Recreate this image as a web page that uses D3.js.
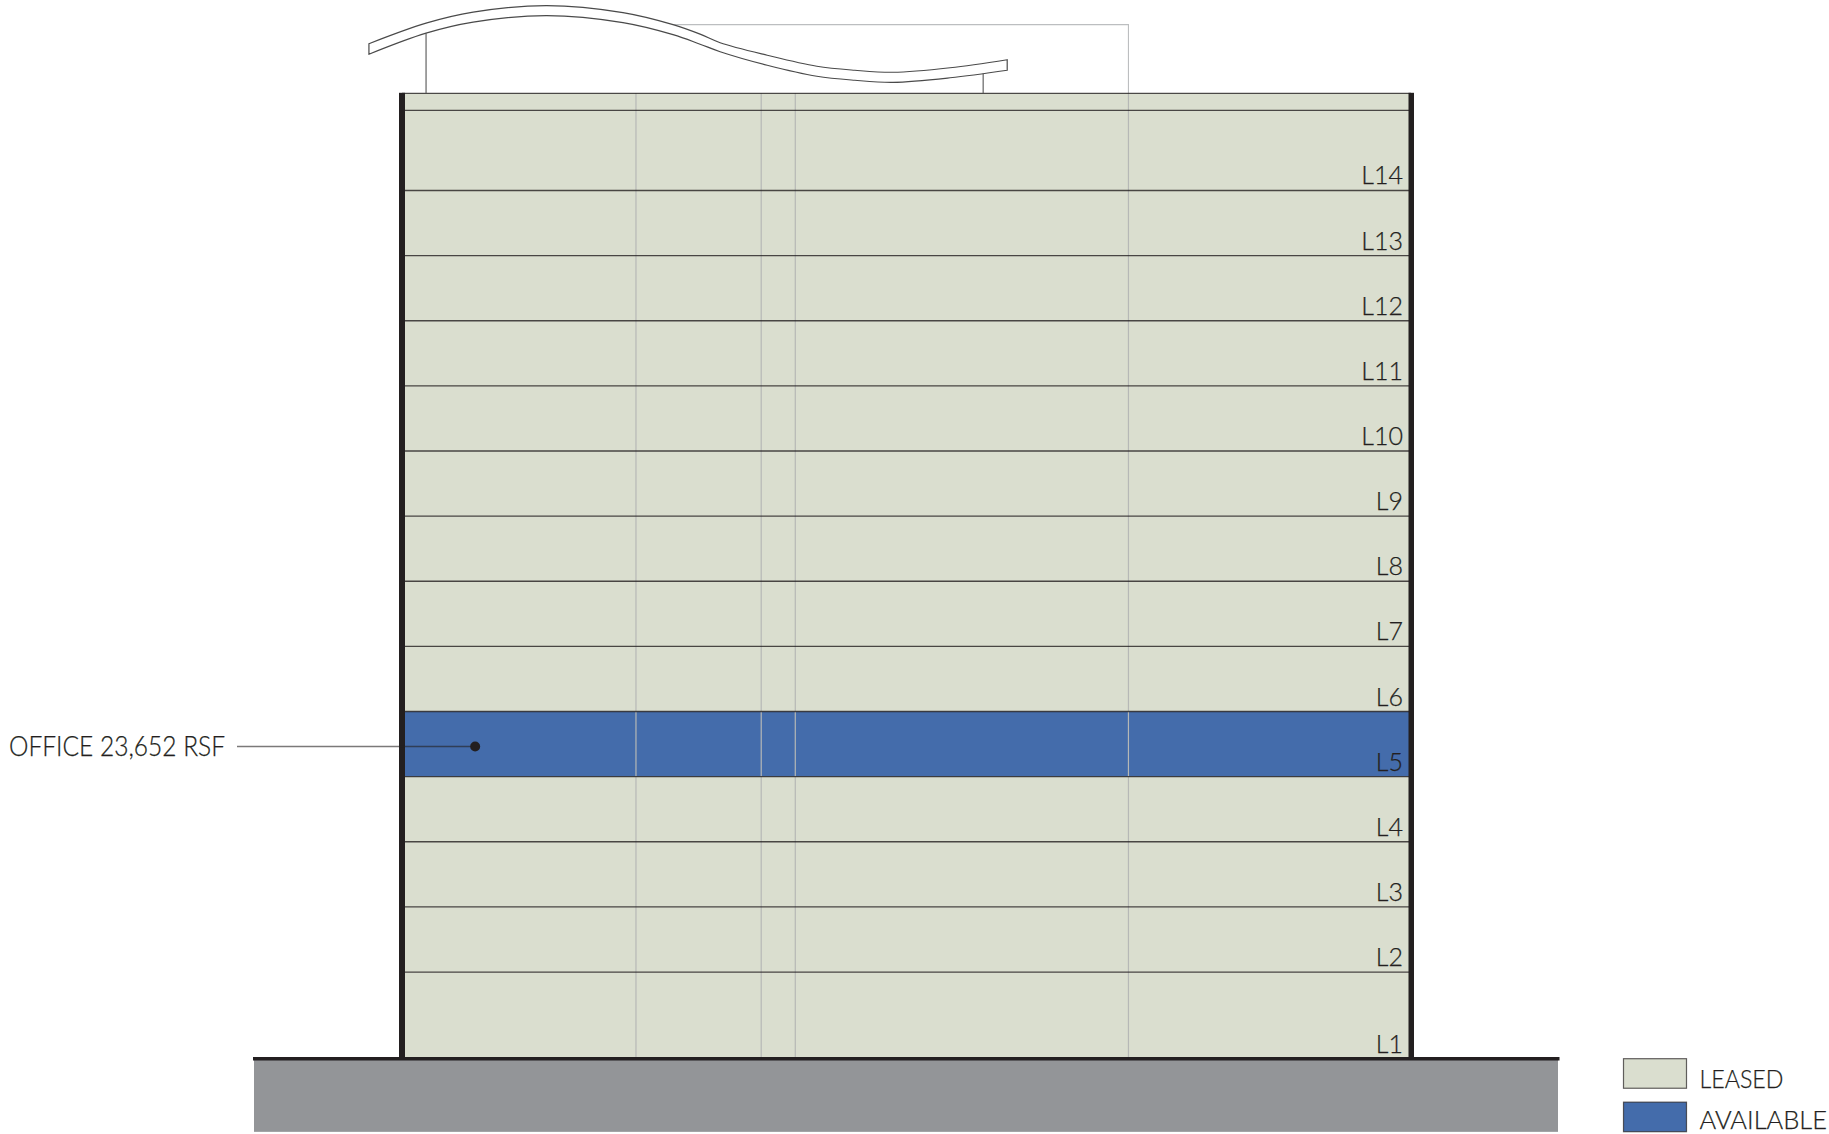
<!DOCTYPE html>
<html>
<head>
<meta charset="utf-8">
<script src="https://cdn.jsdelivr.net/npm/d3@7"></script>
<style>
html,body{margin:0;padding:0;background:#fff;overflow:hidden}
svg{display:block}
text{font-family:Lato,"Open Sans",sans-serif;font-weight:300;fill:#231f20;stroke:#231f20;stroke-width:.25px}
</style>
</head>
<body>
<div id="chart"></div>
<script>
// Floors from top to bottom (height in feet, status)
const floorLabels  = ["L14","L13","L12","L11","L10","L9","L8","L7","L6","L5","L4","L3","L2","L1"];
const floorHeights = [16,13,13,13,13,13,13,13,13,13,13,13,13,17.3];
const floorStatus  = ["leased","leased","leased","leased","leased","leased","leased","leased","leased","available","leased","leased","leased","leased"];
const parapetHeight = 3.4;
const buildingWidth = 201.4;
const groundDepth = 14.6;
const columnPositions = [46.7,71.7,78.5,145];
const roofX      = [-6.6,4.8,14.2,28.9,44.1,54.1,59.5,63.5,72.9,82.8,90.4,98,109.4,120.8];
const roofUpper  = [202.6,206.7,208.9,210.2,208.8,206.4,204.5,202.8,200.3,198.1,197.3,196.9,197.8,199.4];
const roofLower  = [200.5,204.7,206.9,208.2,206.8,204.4,202.5,201.0,198.3,196.1,195.3,194.9,195.8,197.3];
const roofStalks = [4.8,116];
const frameTopElevation = 206.4;
const frameStartX = 54.1;
const legendLabels = ["LEASED","AVAILABLE"];
const legendKeys = ["leased","available"];
const legendWidths = [84, 127.5];
const calloutText = "OFFICE 23,652 RSF";
const calloutElevation = 62.3;
const calloutPointX = 14.6;

const colors = {leased:"#dadecf", available:"#446cab"};
const ink = "#231f20";

const W = 1829, H = 1134;
const totalH = d3.sum(floorHeights) + parapetHeight;
const x = d3.scaleLinear().domain([0, buildingWidth]).range([402, 1411]);
const y = d3.scaleLinear().domain([0, totalH]).range([1058.7, 93.3]);

const svg = d3.select("#chart").append("svg").attr("width", W).attr("height", H).attr("viewBox", `0 0 ${W} ${H}`);

// floor bands from the top down
let cursor = totalH - parapetHeight;
const floors = floorLabels.map((label, i) => {
  const t = cursor, b = cursor - floorHeights[i];
  cursor = b;
  return {label, top: t, bottom: b, status: floorStatus[i]};
});

// ground
svg.append("rect").attr("x", 254).attr("y", y(0)).attr("width", 1304).attr("height", y(-groundDepth) - y(0)).attr("fill", "#939598");

// parapet + floor fills
svg.append("rect").attr("x", x(0)).attr("y", y(totalH)).attr("width", x(buildingWidth) - x(0)).attr("height", y(0) - y(totalH)).attr("fill", colors.leased);
svg.selectAll("rect.floor").data(floors).join("rect").attr("class", "floor")
  .attr("x", x(0)).attr("width", x(buildingWidth) - x(0))
  .attr("y", d => y(d.top)).attr("height", d => y(d.bottom) - y(d.top))
  .attr("fill", d => colors[d.status]);

// columns
svg.selectAll("line.col").data(columnPositions).join("line").attr("class", "col")
  .attr("x1", d => x(d)).attr("x2", d => x(d))
  .attr("y1", y(totalH)).attr("y2", y(0))
  .attr("stroke", "#b6b8b6").attr("stroke-width", 1.2);

// frame behind roof
const lineXY = d3.line().x(d => x(d[0])).y(d => y(d[1]));
svg.append("path").attr("d", lineXY([[frameStartX, frameTopElevation],[columnPositions[3], frameTopElevation],[columnPositions[3], totalH]]))
  .attr("fill", "none").attr("stroke", "#bcbec0").attr("stroke-width", 1.1);

// floor lines
const lines = [totalH, ...floors.map(f => f.top), ...floors.slice(0, -1).map(f => f.bottom)];
svg.selectAll("line.floorline").data(Array.from(new Set(lines))).join("line").attr("class", "floorline")
  .attr("x1", x(0)).attr("x2", x(buildingWidth))
  .attr("y1", d => y(d)).attr("y2", d => y(d))
  .attr("stroke", ink).attr("stroke-opacity", 0.8).attr("stroke-width", 1.3);

// roof stalks
const roofLowerAt = d3.scaleLinear().domain(roofX).range(roofLower);
svg.selectAll("line.stalk").data(roofStalks).join("line").attr("class", "stalk")
  .attr("x1", d => x(d)).attr("x2", d => x(d))
  .attr("y1", d => y(roofLowerAt(d))).attr("y2", y(totalH))
  .attr("stroke", "#555").attr("stroke-width", 1.1);

// roof wing
const curve = d3.line().x(d => x(d[0])).y(d => y(d[1])).curve(d3.curveCatmullRom.alpha(0.5));
const up = roofX.map((v, i) => [v, roofUpper[i]]);
const lo = roofX.map((v, i) => [v, roofLower[i]]).reverse();
const upPath = curve(up), loPath = curve(lo);
svg.append("path").attr("d", upPath + "L" + loPath.slice(1) + "Z")
  .attr("fill", "#fff").attr("stroke", "#4a4a4a").attr("stroke-width", 1.2).attr("stroke-linejoin", "miter");

// walls
[[399,6],[1408.5,5.5]].forEach(([wx, ww]) => {
  svg.append("rect").attr("x", wx).attr("y", y(totalH) - 0.5).attr("width", ww).attr("height", y(0) - y(totalH) + 0.5).attr("fill", ink);
});
// ground line
svg.append("line").attr("x1", 253).attr("x2", 1559.5).attr("y1", y(0)).attr("y2", y(0)).attr("stroke", ink).attr("stroke-width", 3.4);

// floor labels
svg.selectAll("text.lvl").data(floors).join("text").attr("class", "lvl")
  .attr("x", 1403).attr("y", d => y(d.bottom) - 6)
  .attr("text-anchor", "end").attr("font-size", 25)
  .text(d => d.label);

// callout
const cy = y(calloutElevation);
svg.append("line").attr("x1", 237).attr("x2", x(calloutPointX)).attr("y1", cy).attr("y2", cy)
  .attr("stroke", ink).attr("stroke-opacity", 0.6).attr("stroke-width", 1.5);
svg.append("circle").attr("cx", x(calloutPointX)).attr("cy", cy).attr("r", 5).attr("fill", ink);
svg.append("text").attr("x", 9).attr("y", cy + 9).attr("font-size", 26.5)
  .attr("textLength", 216).attr("lengthAdjust", "spacingAndGlyphs").text(calloutText);

// legend
const legY = d3.scaleBand().domain(legendKeys).range([1058.7, 1131.7]).paddingInner(0.32);
const lg = svg.selectAll("g.leg").data(legendKeys).join("g").attr("class", "leg");
lg.append("rect").attr("x", 1623.5).attr("y", d => legY(d)).attr("width", 63).attr("height", legY.bandwidth())
  .attr("fill", d => colors[d]).attr("stroke", ink).attr("stroke-opacity", 0.7).attr("stroke-width", 1.2);
lg.append("text").attr("x", 1699.5).attr("y", (d, i) => legY(d) + legY.bandwidth() - (i === 1 ? 3 : 0.5)).attr("font-size", 24.5)
  .attr("textLength", (d, i) => legendWidths[i]).attr("lengthAdjust", "spacingAndGlyphs")
  .text((d, i) => legendLabels[i]);
</script>
</body>
</html>
